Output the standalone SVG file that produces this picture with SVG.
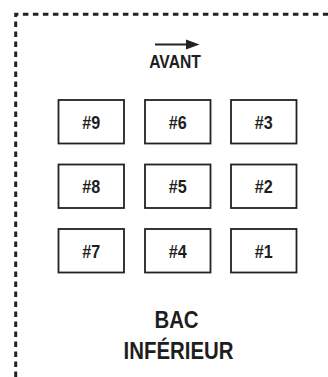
<svg xmlns="http://www.w3.org/2000/svg" width="328" height="377" viewBox="0 0 328 377">
<style>
.box{fill:#fff;stroke:#222;stroke-width:1.8}
.t{font-family:"Liberation Sans",Arial,sans-serif;font-weight:bold;fill:#1e1e1e;text-anchor:middle}
.lbl{font-size:19px}
.border{fill:none;stroke:#222;stroke-width:3;stroke-dasharray:5.5 4.5}
</style>
<rect width="328" height="377" fill="#fff"/>
<path class="border" d="M15.7,377 V14.2 H328"/>
<g id="arrow">
<line x1="155" y1="44.5" x2="189" y2="44.5" stroke="#222" stroke-width="2"/>
<polygon points="186,39.5 199.5,44.5 186,49.5" fill="#222"/>
</g>
<g id="avant"><text class="t" transform="translate(175,68) scale(0.87,1)" font-size="18">AVANT</text></g>
<g id="n9"><rect class="box" x="58.5" y="100" width="65.5" height="43.5"/><text class="t lbl" transform="translate(91.3,128.5) scale(0.85,1)">#9</text></g>
<g id="n6"><rect class="box" x="145" y="100" width="65.5" height="43.5"/><text class="t lbl" transform="translate(177.8,128.5) scale(0.85,1)">#6</text></g>
<g id="n3"><rect class="box" x="231" y="100" width="65.5" height="43.5"/><text class="t lbl" transform="translate(263.8,128.5) scale(0.85,1)">#3</text></g>
<g id="n8"><rect class="box" x="58.5" y="164.5" width="65.5" height="43.5"/><text class="t lbl" transform="translate(91.3,193) scale(0.85,1)">#8</text></g>
<g id="n5"><rect class="box" x="145" y="164.5" width="65.5" height="43.5"/><text class="t lbl" transform="translate(177.8,193) scale(0.85,1)">#5</text></g>
<g id="n2"><rect class="box" x="231" y="164.5" width="65.5" height="43.5"/><text class="t lbl" transform="translate(263.8,193) scale(0.85,1)">#2</text></g>
<g id="n7"><rect class="box" x="58.5" y="229" width="65.5" height="43.5"/><text class="t lbl" transform="translate(91.3,257.5) scale(0.85,1)">#7</text></g>
<g id="n4"><rect class="box" x="145" y="229" width="65.5" height="43.5"/><text class="t lbl" transform="translate(177.8,257.5) scale(0.85,1)">#4</text></g>
<g id="n1"><rect class="box" x="231" y="229" width="65.5" height="43.5"/><text class="t lbl" transform="translate(263.8,257.5) scale(0.85,1)">#1</text></g>
<g id="title">
<text class="t" transform="translate(176.5,328) scale(0.85,1)" font-size="24">BAC</text>
<text class="t" transform="translate(178.5,359) scale(0.85,1)" font-size="24">INFÉRIEUR</text>
</g>
</svg>
